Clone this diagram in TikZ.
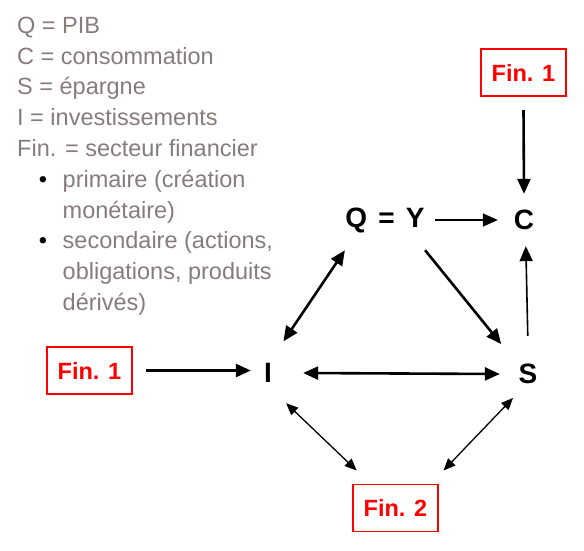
\documentclass[tikz,border=0pt]{standalone}
\usepackage{fontspec}
\setmainfont{Liberation Sans}
\usetikzlibrary{arrows.meta}

\definecolor{legendgray}{RGB}{134,124,124}
\definecolor{finred}{RGB}{255,0,0}

\begin{document}
\begin{tikzpicture}[x=1pt, y=-1pt,
    legend/.style={anchor=base west, inner sep=0pt, text=legendgray, font=\fontsize{23.5}{28}\selectfont},
    dot/.style={anchor=base, inner sep=0pt, font=\fontsize{23.5}{28}\selectfont},
    var/.style={circle, inner sep=0pt, font=\bfseries\fontsize{28}{32}\selectfont},
    fin/.style={draw=finred, line width=1.5pt, text=finred, font=\bfseries\fontsize{23.5}{28}\selectfont,
                minimum width=85pt, minimum height=47pt, inner sep=0pt, outer sep=14pt},
    big/.style={line width=2.6pt, >={Triangle[length=15pt,width=13pt]}},
    med/.style={line width=1.6pt, >={Triangle[length=15pt,width=13pt]}},
    small/.style={line width=1.3pt, >={Triangle[length=12pt,width=10pt]}}]
    % Pixel grid of the slide: origin top left, y downwards
    \useasboundingbox (0,0) rectangle (584,550);
    \def\lh{30.8}   % line height of the legend

    % Legend
    \node[legend] (leg1) at (17,33.3) {Q = PIB};
    \node[legend] (leg2) at (17,33.3+\lh) {C = consommation};
    \node[legend] (leg3) at (17,33.3+2*\lh) {S = épargne};
    \node[legend] (leg4) at (17,33.3+3*\lh) {I = investissements};
    \node[legend] (leg5) at (17,33.3+4*\lh) {Fin. = secteur financier};
    \node[dot] (dot1) at (43,33.3+5*\lh) {•};
    \node[legend] (leg6) at (62.5,33.3+5*\lh) {primaire (création};
    \node[legend] (leg7) at (62.5,33.3+6*\lh) {monétaire)};
    \node[dot] (dot2) at (43,33.3+7*\lh) {•};
    \node[legend] (leg8) at (62.5,33.3+7*\lh) {secondaire (actions,};
    \node[legend] (leg9) at (62.5,33.3+8*\lh) {obligations, produits};
    \node[legend] (leg10) at (62.5,33.3+9*\lh) {dérivés)};

    % Macro variables
    \node[var, minimum size=100pt] (qy) at (385,220) {Q\hspace{3.5pt} = \hspace{3.5pt}Y};
    \node[var, minimum size=52pt] (c) at (524,220) {C};
    \node[var, minimum size=70pt] (i) at (268,373) {I};
    \node[var, minimum size=56pt] (s) at (528,374) {S};

    % Financial sector boxes
    \node[fin] (fintop) at (523.5,72.5) {Fin. 1};
    \node[fin] (finleft) at (89.5,370.5) {Fin. 1};
    \node[fin] (finbot) at (395.5,508) {Fin. 2};

    % Fin. 1 feeds C and I
    \draw[big, ->] (fintop.south) -- (c.north);
    \draw[big, ->, shorten >=-18pt] (finleft.east) -- (finleft.east -| i.west);

    % Circuit Q = Y -> C, S
    \draw[med, ->] (qy.east) -- (c.west);
    \draw[big, ->, shorten >=12pt] (qy.-37) -- (s.133);
    \draw[med, ->, shorten <=10pt] (s.north) -- (c.-86);
    \draw[big, <->] (qy.217) -- (i.64);
    \draw[big, <->] (i.east) -- (s.west);

    % Fin. 2 with I and S
    \draw[small, <->] (i.-59) -- (finbot.136);
    \draw[small, <->] (s.-122) -- (finbot.38);
\end{tikzpicture}
\end{document}
